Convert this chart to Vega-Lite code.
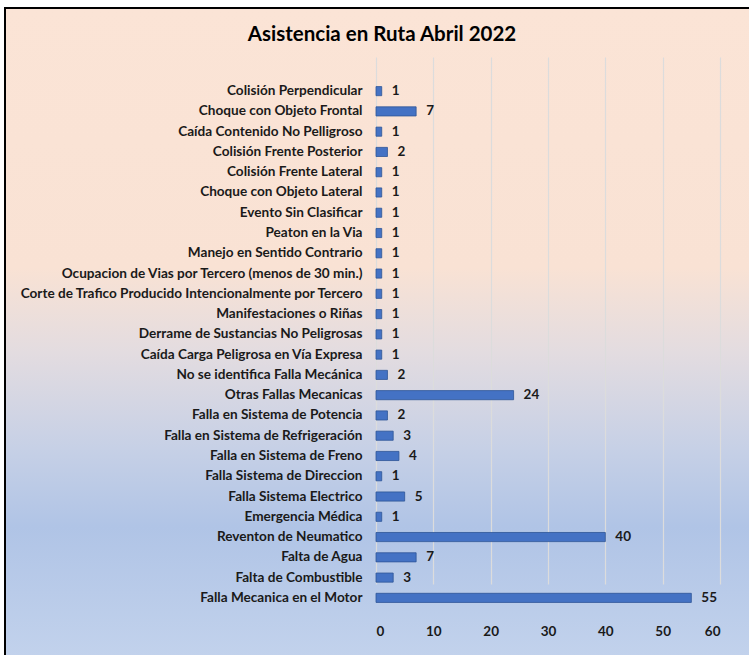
{
  "$schema": "https://vega.github.io/schema/vega-lite/v6.json",
  "width": 746,
  "height": 649,
  "autosize": {"type": "none"},
  "padding": {"left": 5, "top": 8, "right": 0, "bottom": 0},
  "background": "white",
  "title": {
    "text": "Asistencia en Ruta Abril 2022",
    "font": "Lato",
    "fontSize": 20.5,
    "fontWeight": "bold",
    "color": "black",
    "anchor": "middle",
    "frame": "group",
    "baseline": "middle",
    "offset": -47,
    "dx": 4
  },
  "config": {
    "view": {
      "fill": {
        "gradient": "linear",
        "x1": 0, "y1": 0, "x2": 0, "y2": 1,
        "stops": [
          {"offset": 0, "color": "#FBE4D6"},
          {"offset": 0.4, "color": "#F9E2D4"},
          {"offset": 0.53, "color": "#E3DCE0"},
          {"offset": 0.68, "color": "#C6D0E6"},
          {"offset": 0.8, "color": "#B0C4E6"},
          {"offset": 1, "color": "#C2D2EC"}
        ]
      },
      "stroke": "black",
      "strokeWidth": 2
    }
  },
  "data": {
    "values": [
      {"categoria": "Colisión Perpendicular", "valor": 1},
      {"categoria": "Choque con Objeto Frontal", "valor": 7},
      {"categoria": "Caída Contenido No Pelligroso", "valor": 1},
      {"categoria": "Colisión Frente Posterior", "valor": 2},
      {"categoria": "Colisión Frente Lateral", "valor": 1},
      {"categoria": "Choque con Objeto Lateral", "valor": 1},
      {"categoria": "Evento Sin Clasificar", "valor": 1},
      {"categoria": "Peaton en la Via", "valor": 1},
      {"categoria": "Manejo en Sentido Contrario", "valor": 1},
      {"categoria": "Ocupacion de Vias por Tercero (menos de 30 min.)", "valor": 1},
      {"categoria": "Corte de Trafico Producido Intencionalmente por Tercero", "valor": 1},
      {"categoria": "Manifestaciones o Riñas", "valor": 1},
      {"categoria": "Derrame de Sustancias No Peligrosas", "valor": 1},
      {"categoria": "Caída Carga Peligrosa en Vía Expresa", "valor": 1},
      {"categoria": "No se identifica Falla Mecánica", "valor": 2},
      {"categoria": "Otras Fallas Mecanicas", "valor": 24},
      {"categoria": "Falla en Sistema de Potencia", "valor": 2},
      {"categoria": "Falla en Sistema de Refrigeración", "valor": 3},
      {"categoria": "Falla en Sistema de Freno", "valor": 4},
      {"categoria": "Falla Sistema de Direccion", "valor": 1},
      {"categoria": "Falla Sistema Electrico", "valor": 5},
      {"categoria": "Emergencia Médica", "valor": 1},
      {"categoria": "Reventon de Neumatico", "valor": 40},
      {"categoria": "Falta de Agua", "valor": 7},
      {"categoria": "Falta de Combustible", "valor": 3},
      {"categoria": "Falla Mecanica en el Motor", "valor": 55}
    ]
  },
  "encoding": {
    "y": {
      "field": "categoria",
      "type": "nominal",
      "sort": null,
      "scale": {"range": [73, 600], "paddingInner": 0.55, "paddingOuter": 0.275},
      "axis": {
        "title": null,
        "orient": "left",
        "offset": -371,
        "domain": false,
        "ticks": false,
        "grid": false,
        "labelPadding": 14,
        "labelLimit": 0,
        "labelFont": "Lato",
        "labelFontSize": 13.6,
        "labelFontWeight": "bold",
        "labelColor": "#1a1a1a"
      }
    },
    "x": {
      "field": "valor",
      "type": "quantitative",
      "scale": {"domain": [0, 60], "range": [371, 715], "nice": false},
      "axis": {
        "title": null,
        "orient": "bottom",
        "offset": -49,
        "values": [0, 10, 20, 30, 40, 50, 60],
        "domain": false,
        "ticks": false,
        "grid": true,
        "gridColor": "#DCDCDC",
        "gridWidth": 1.2,
        "labelPadding": 16,
        "labelFont": "Lato",
        "labelFontSize": 13.5,
        "labelFontWeight": "bold",
        "labelColor": "#1a1a1a"
      }
    }
  },
  "layer": [
    {
      "mark": {"type": "bar", "color": "#4472C4", "stroke": "#2F5597", "strokeWidth": 0.8}
    },
    {
      "mark": {"type": "text", "align": "left", "baseline": "middle", "dx": 10, "font": "Lato", "fontSize": 13.5, "fontWeight": "bold", "color": "#1a1a1a"},
      "encoding": {"text": {"field": "valor", "type": "quantitative"}}
    }
  ]
}
